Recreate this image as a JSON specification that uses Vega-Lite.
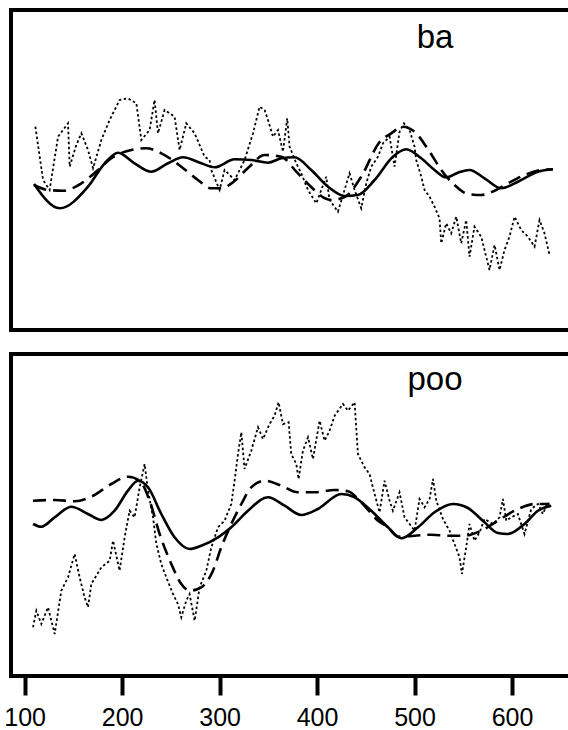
{
  "$schema": "https://vega.github.io/schema/vega-lite/v6.json",
  "background": "white",
  "padding": {"left": 1, "top": 8, "right": 0, "bottom": 0},
  "config": {
    "view": {"stroke": "black", "strokeWidth": 4},
    "concat": {"spacing": 20}
  },
  "datasets": {
    "ba_solid": [
      {"x":109.6,"y":146},{"x":135.9,"y":121.7},{"x":165,"y":143.3},{"x":182.1,"y":166.7},{"x":195.8,"y":177.3},{"x":212.8,"y":166.7},{"x":229.9,"y":158.3},{"x":247.1,"y":166.7},{"x":262.5,"y":172.7},{"x":281.2,"y":166.7},{"x":294.9,"y":162.7},{"x":315.4,"y":170.7},{"x":332.5,"y":170},{"x":349.6,"y":167.3},{"x":363.3,"y":171.7},{"x":376.9,"y":172.7},{"x":394,"y":160},{"x":411.2,"y":143.3},{"x":428.2,"y":134},{"x":441.9,"y":135},{"x":459,"y":150},{"x":477.8,"y":173.3},{"x":491.5,"y":180.7},{"x":506.9,"y":171.7},{"x":520.5,"y":160},{"x":532.5,"y":152.7},{"x":544.5,"y":157.3},{"x":556.4,"y":160},{"x":571.8,"y":151.7},{"x":588.9,"y":141.7},{"x":606,"y":148.3},{"x":626.6,"y":158.3},{"x":641.9,"y":160.7}
    ],
    "ba_dashed": [
      {"x":109.6,"y":145},{"x":124,"y":140},{"x":139.4,"y":139.3},{"x":158.2,"y":146.7},{"x":175.3,"y":160},{"x":188.9,"y":171.7},{"x":209.4,"y":180},{"x":224.8,"y":181.7},{"x":240.2,"y":176.7},{"x":260.7,"y":163.3},{"x":277.8,"y":150},{"x":291.5,"y":141.7},{"x":301.7,"y":141.7},{"x":314.1,"y":148},{"x":329.1,"y":162},{"x":346.2,"y":175},{"x":363.3,"y":173.3},{"x":378.7,"y":158.3},{"x":395,"y":142},{"x":407.4,"y":132},{"x":414.6,"y":130},{"x":428.2,"y":133},{"x":445.3,"y":153.3},{"x":463.4,"y":187},{"x":476.1,"y":196.7},{"x":488.1,"y":203.3},{"x":500,"y":198.3},{"x":515.4,"y":178.3},{"x":527.4,"y":160},{"x":541,"y":145},{"x":554.8,"y":136},{"x":568.4,"y":135},{"x":582.1,"y":139.3},{"x":595.8,"y":146.7},{"x":612.8,"y":155},{"x":629.9,"y":160},{"x":641.9,"y":160.7}
    ],
    "ba_dotted": [
      {"x":111,"y":203.3},{"x":118.9,"y":150},{"x":125.6,"y":140},{"x":134.3,"y":193.3},{"x":144.5,"y":206.7},{"x":146.2,"y":163.3},{"x":153,"y":185},{"x":158.2,"y":196.7},{"x":165,"y":180},{"x":170.2,"y":161.7},{"x":178.7,"y":190},{"x":187.2,"y":210},{"x":197.4,"y":230},{"x":206,"y":231.7},{"x":214.6,"y":226.7},{"x":219.7,"y":190},{"x":228.2,"y":200},{"x":233.3,"y":230},{"x":236.8,"y":196.7},{"x":243.6,"y":220},{"x":253.8,"y":213.3},{"x":259,"y":180},{"x":265.8,"y":206.7},{"x":274.4,"y":196.7},{"x":284.6,"y":173.3},{"x":289.7,"y":170},{"x":291.5,"y":160},{"x":300,"y":140},{"x":305.1,"y":160},{"x":315.4,"y":150},{"x":325.6,"y":170},{"x":334.3,"y":196.7},{"x":341,"y":223.3},{"x":346.2,"y":220},{"x":349.6,"y":210},{"x":354.8,"y":193.3},{"x":359.9,"y":200},{"x":365,"y":178.3},{"x":369.4,"y":211.7},{"x":371.8,"y":183.3},{"x":378.7,"y":166.7},{"x":383.8,"y":156.7},{"x":390.7,"y":140},{"x":399.2,"y":126.7},{"x":409.4,"y":153.3},{"x":412.8,"y":130},{"x":421.4,"y":118.3},{"x":426.6,"y":135},{"x":433.3,"y":156.7},{"x":438.5,"y":140},{"x":445.3,"y":121.7},{"x":450.5,"y":146.7},{"x":455.6,"y":163.3},{"x":462.5,"y":173.3},{"x":467.6,"y":186.7},{"x":474.4,"y":193.3},{"x":479.5,"y":163.3},{"x":484.6,"y":198.3},{"x":489.1,"y":206.7},{"x":494.9,"y":200},{"x":500,"y":183.3},{"x":501.7,"y":170},{"x":506.9,"y":153.3},{"x":510.3,"y":140},{"x":515.4,"y":133.3},{"x":520.5,"y":123.3},{"x":525.6,"y":111.7},{"x":527.4,"y":86.7},{"x":532.5,"y":106.7},{"x":537.6,"y":96.7},{"x":542.8,"y":113.3},{"x":547.9,"y":86.7},{"x":553,"y":110},{"x":556.4,"y":73.3},{"x":561.5,"y":103.3},{"x":568.4,"y":93.3},{"x":571.8,"y":80},{"x":576.9,"y":60},{"x":582.1,"y":85},{"x":587.2,"y":60},{"x":592.3,"y":80},{"x":597.4,"y":93.3},{"x":602.6,"y":113.3},{"x":609.4,"y":100},{"x":616.3,"y":93.3},{"x":623.1,"y":83.3},{"x":628.2,"y":110},{"x":633.3,"y":96.7},{"x":638.5,"y":75}
    ],
    "poo_solid": [
      {"x":108.6,"y":152},{"x":117.1,"y":149.3},{"x":130.8,"y":158.7},{"x":147.9,"y":169.3},{"x":165,"y":162},{"x":178.7,"y":156},{"x":192.3,"y":165.3},{"x":206,"y":185.3},{"x":216.3,"y":195.3},{"x":226.6,"y":188.7},{"x":240.2,"y":162},{"x":253.8,"y":138.7},{"x":269.2,"y":127},{"x":281.2,"y":130.3},{"x":298.4,"y":138.7},{"x":312,"y":148.7},{"x":329.1,"y":165.3},{"x":349.6,"y":178.7},{"x":366.7,"y":170.3},{"x":383.8,"y":161},{"x":400.9,"y":167},{"x":424.8,"y":182},{"x":438.5,"y":178.7},{"x":455.6,"y":165.3},{"x":472.7,"y":148.7},{"x":486.4,"y":137.7},{"x":503.5,"y":148.7},{"x":520.5,"y":163.7},{"x":539.4,"y":172},{"x":554.8,"y":168},{"x":571.8,"y":153.7},{"x":585.5,"y":143},{"x":595.8,"y":142},{"x":612.8,"y":152},{"x":626.6,"y":165.3},{"x":640.2,"y":170.3}
    ],
    "poo_dashed": [
      {"x":108.6,"y":175.3},{"x":130.8,"y":176},{"x":151.3,"y":174.7},{"x":168.4,"y":179.3},{"x":188.9,"y":192},{"x":206,"y":199.3},{"x":218,"y":195.3},{"x":228.2,"y":175.3},{"x":238.5,"y":142},{"x":250.5,"y":112},{"x":260.7,"y":92},{"x":269.2,"y":85.3},{"x":281.2,"y":88.7},{"x":293.2,"y":105.3},{"x":301.7,"y":128.7},{"x":312,"y":152},{"x":322.3,"y":172},{"x":332.5,"y":188.7},{"x":346.2,"y":195.3},{"x":363.3,"y":190.3},{"x":380.4,"y":183.7},{"x":397.4,"y":183.7},{"x":418,"y":186},{"x":431.7,"y":184.7},{"x":445.3,"y":173.7},{"x":462.5,"y":155.3},{"x":472.7,"y":148.7},{"x":483,"y":139.3},{"x":500,"y":140.3},{"x":517.1,"y":141.3},{"x":534.3,"y":140.3},{"x":551.3,"y":140.3},{"x":568.4,"y":145.3},{"x":585.5,"y":155.3},{"x":606,"y":167},{"x":623.1,"y":172},{"x":638.5,"y":172}
    ],
    "poo_dotted": [
      {"x":108.6,"y":48.7},{"x":112,"y":65.3},{"x":117.1,"y":52},{"x":124,"y":68.7},{"x":130.8,"y":42},{"x":137.6,"y":85.3},{"x":144.5,"y":98.7},{"x":151.3,"y":122},{"x":156.4,"y":98.7},{"x":161.5,"y":78.7},{"x":165,"y":68.7},{"x":168.4,"y":92},{"x":178.7,"y":108.7},{"x":187.2,"y":115.3},{"x":190.7,"y":135.3},{"x":197.4,"y":105.3},{"x":202.6,"y":138.7},{"x":207.7,"y":165.3},{"x":212.8,"y":158.7},{"x":218,"y":188.7},{"x":223.1,"y":212},{"x":226.6,"y":185.3},{"x":231.7,"y":158.7},{"x":235.1,"y":132},{"x":240.2,"y":112},{"x":245.3,"y":98.7},{"x":252.2,"y":82},{"x":257.3,"y":72},{"x":260.7,"y":58.7},{"x":265.8,"y":75.3},{"x":269.2,"y":82},{"x":274.4,"y":55.3},{"x":279.5,"y":88.7},{"x":286.4,"y":105.3},{"x":291.5,"y":128.7},{"x":298.4,"y":148.7},{"x":305.1,"y":155.3},{"x":312,"y":172},{"x":315.4,"y":195.3},{"x":318.9,"y":222},{"x":322.3,"y":243.7},{"x":325.6,"y":207},{"x":332.5,"y":225.3},{"x":339.4,"y":248.7},{"x":344.5,"y":237},{"x":351.3,"y":252},{"x":356.4,"y":260.3},{"x":360.5,"y":273.7},{"x":365,"y":252},{"x":370.8,"y":253.7},{"x":373.5,"y":222},{"x":378.7,"y":212},{"x":381,"y":197},{"x":385.5,"y":225.3},{"x":390.7,"y":238.7},{"x":395.8,"y":217},{"x":402.6,"y":255.3},{"x":407.7,"y":235.3},{"x":412.8,"y":245.3},{"x":418,"y":260.3},{"x":426.6,"y":272},{"x":431.7,"y":265.3},{"x":438.5,"y":273.7},{"x":441.9,"y":222},{"x":448.7,"y":208.7},{"x":453.8,"y":202},{"x":459,"y":182},{"x":464.1,"y":163.7},{"x":469.2,"y":195.3},{"x":474.4,"y":175.3},{"x":477.8,"y":165.3},{"x":484.6,"y":183.7},{"x":489.7,"y":158.7},{"x":494.9,"y":152},{"x":500,"y":145.3},{"x":505.1,"y":177},{"x":510.3,"y":168.7},{"x":515.4,"y":177},{"x":518.9,"y":197},{"x":522.3,"y":175.3},{"x":529.1,"y":157},{"x":535.9,"y":145.3},{"x":541,"y":132},{"x":546.2,"y":118.7},{"x":548.6,"y":102},{"x":553,"y":128.7},{"x":556.4,"y":152},{"x":561.5,"y":135.3},{"x":566.7,"y":143.7},{"x":571.8,"y":157},{"x":580.4,"y":152},{"x":587.2,"y":158.7},{"x":590.7,"y":177},{"x":594.1,"y":155.3},{"x":599.2,"y":158.7},{"x":606,"y":162},{"x":612.8,"y":142},{"x":619.7,"y":167},{"x":626.6,"y":172},{"x":631.7,"y":162},{"x":636.8,"y":173.7}
    ],
    "titles": [{"panel":"ba","label":"ba"},{"panel":"poo","label":"poo"}]
  },
  "vconcat": [
    {
      "width": 579,
      "height": 320,
      "layer": [
        {
          "data": {"name": "ba_dotted"},
          "mark": {"type": "line", "stroke": "black", "strokeWidth": 1.8, "strokeDash": [2.5, 2.5]},
          "encoding": {
            "x": {"field": "x", "type": "quantitative", "scale": {"domain": [86, 680], "nice": false, "zero": false}, "axis": null},
            "y": {"field": "y", "type": "quantitative", "scale": {"domain": [0, 320], "nice": false}, "axis": null}
          }
        },
        {
          "data": {"name": "ba_dashed"},
          "mark": {"type": "line", "stroke": "black", "strokeWidth": 2.6, "strokeDash": [13, 7], "interpolate": "monotone"},
          "encoding": {
            "x": {"field": "x", "type": "quantitative"},
            "y": {"field": "y", "type": "quantitative"}
          }
        },
        {
          "data": {"name": "ba_solid"},
          "mark": {"type": "line", "stroke": "black", "strokeWidth": 2.6, "interpolate": "monotone"},
          "encoding": {
            "x": {"field": "x", "type": "quantitative"},
            "y": {"field": "y", "type": "quantitative"}
          }
        },
        {
          "data": {"name": "titles"},
          "transform": [{"filter": "datum.panel === 'ba'"}],
          "mark": {"type": "text", "font": "Liberation Sans", "fontSize": 33, "align": "center", "baseline": "alphabetic", "color": "black"},
          "encoding": {
            "x": {"datum": 521, "type": "quantitative"},
            "y": {"datum": 282, "type": "quantitative"},
            "text": {"field": "label"}
          }
        }
      ]
    },
    {
      "width": 579,
      "height": 322,
      "layer": [
        {
          "data": {"name": "poo_dotted"},
          "mark": {"type": "line", "stroke": "black", "strokeWidth": 1.8, "strokeDash": [2.5, 2.5]},
          "encoding": {
            "x": {"field": "x", "type": "quantitative", "scale": {"domain": [86, 680], "nice": false, "zero": false},
              "axis": {"values": [100, 200, 300, 400, 500, 600], "title": null, "grid": false, "domain": false,
                "ticks": true, "tickSize": 19, "tickWidth": 4, "tickColor": "black",
                "labelFont": "Liberation Sans", "labelFontSize": 25, "labelColor": "black",
                "labelPadding": 10, "labelFlush": false, "labelOverlap": false}},
            "y": {"field": "y", "type": "quantitative", "scale": {"domain": [0, 322], "nice": false}, "axis": null}
          }
        },
        {
          "data": {"name": "poo_dashed"},
          "mark": {"type": "line", "stroke": "black", "strokeWidth": 2.6, "strokeDash": [13, 7], "interpolate": "monotone"},
          "encoding": {
            "x": {"field": "x", "type": "quantitative"},
            "y": {"field": "y", "type": "quantitative"}
          }
        },
        {
          "data": {"name": "poo_solid"},
          "mark": {"type": "line", "stroke": "black", "strokeWidth": 2.6, "interpolate": "monotone"},
          "encoding": {
            "x": {"field": "x", "type": "quantitative"},
            "y": {"field": "y", "type": "quantitative"}
          }
        },
        {
          "data": {"name": "titles"},
          "transform": [{"filter": "datum.panel === 'poo'"}],
          "mark": {"type": "text", "font": "Liberation Sans", "fontSize": 33, "align": "center", "baseline": "alphabetic", "color": "black"},
          "encoding": {
            "x": {"datum": 521, "type": "quantitative"},
            "y": {"datum": 286, "type": "quantitative"},
            "text": {"field": "label"}
          }
        }
      ]
    }
  ]
}
